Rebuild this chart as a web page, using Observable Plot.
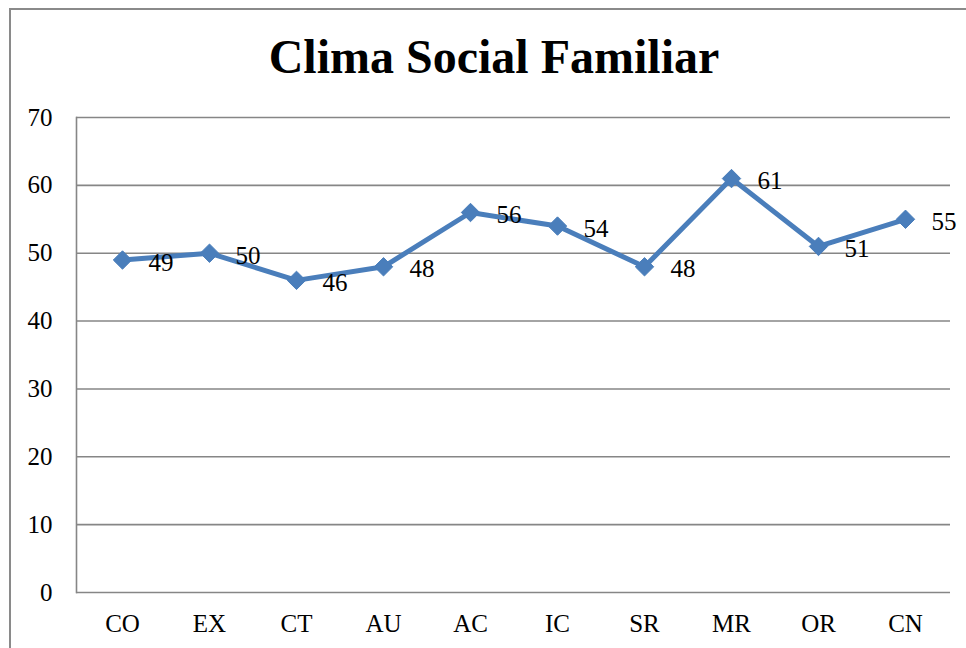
<!DOCTYPE html>
<html>
<head>
<meta charset="utf-8">
<script src="https://cdn.jsdelivr.net/npm/d3@7"></script>
<script src="https://cdn.jsdelivr.net/npm/@observablehq/plot@0.6"></script>
<style>
html, body { margin: 0; padding: 0; overflow: hidden; background: #fff; width: 966px; height: 648px; }
#frame { position: absolute; left: 9px; top: 8px; width: 1000px; height: 700px; border: 2px solid #8a8a8a; box-sizing: border-box; }
#title { position: absolute; left: 11px; top: 33px; width: 966px; text-align: center; font-family: "Liberation Serif", "Times New Roman", serif; font-weight: bold; font-size: 48px; line-height: 48px; color: #000; }
#chart { position: absolute; left: 0; top: 95px; }
</style>
</head>
<body>
<div id="frame"></div>
<div id="title">Clima Social Familiar</div>
<div id="chart"></div>
<script>
const categories = ["CO", "EX", "CT", "AU", "AC", "IC", "SR", "MR", "OR", "CN"];
const values = [49, 50, 46, 48, 56, 54, 48, 61, 51, 55];
const yTicks = [0, 10, 20, 30, 40, 50, 60, 70];

const data = categories.map((c, i) => ({cat: c, value: values[i]}));
const font = '"Liberation Serif", "Times New Roman", serif';
const blue = "#4a7ebb";
const gray = "#868686";

const chart = Plot.plot({
  width: 966,
  height: 553,
  marginTop: 22,
  marginBottom: 56,
  marginLeft: 76,
  marginRight: 16,
  style: {background: "transparent", fontFamily: font, fontSize: "25px", color: "#000"},
  x: {type: "point", domain: categories, padding: 0.5, label: null},
  y: {domain: [0, 70], label: null},
  marks: [
    Plot.gridY(yTicks, {stroke: gray, strokeOpacity: 1, strokeWidth: 1.6}),
    Plot.frame({anchor: "left", stroke: gray, strokeWidth: 1.6}),
    Plot.axisY(yTicks, {tickSize: 0, tickPadding: 24, fontSize: 25, fontFamily: font, fill: "#000", label: null}),
    Plot.axisX({tickSize: 0, tickPadding: 22, fontSize: 25, fontFamily: font, fill: "#000", label: null}),
    Plot.line(data, {x: "cat", y: "value", stroke: blue, strokeWidth: 5, strokeLinejoin: "round"}),
    Plot.dot(data, {x: "cat", y: "value", symbol: "diamond2", r: 8.3, fill: blue, stroke: blue, strokeWidth: 1}),
    Plot.text(data, {x: "cat", y: "value", text: d => String(d.value), dx: 26, dy: 2.5, textAnchor: "start", fontSize: 25, fontFamily: font, fill: "#000"})
  ]
});
document.getElementById("chart").appendChild(chart);
</script>
</body>
</html>
